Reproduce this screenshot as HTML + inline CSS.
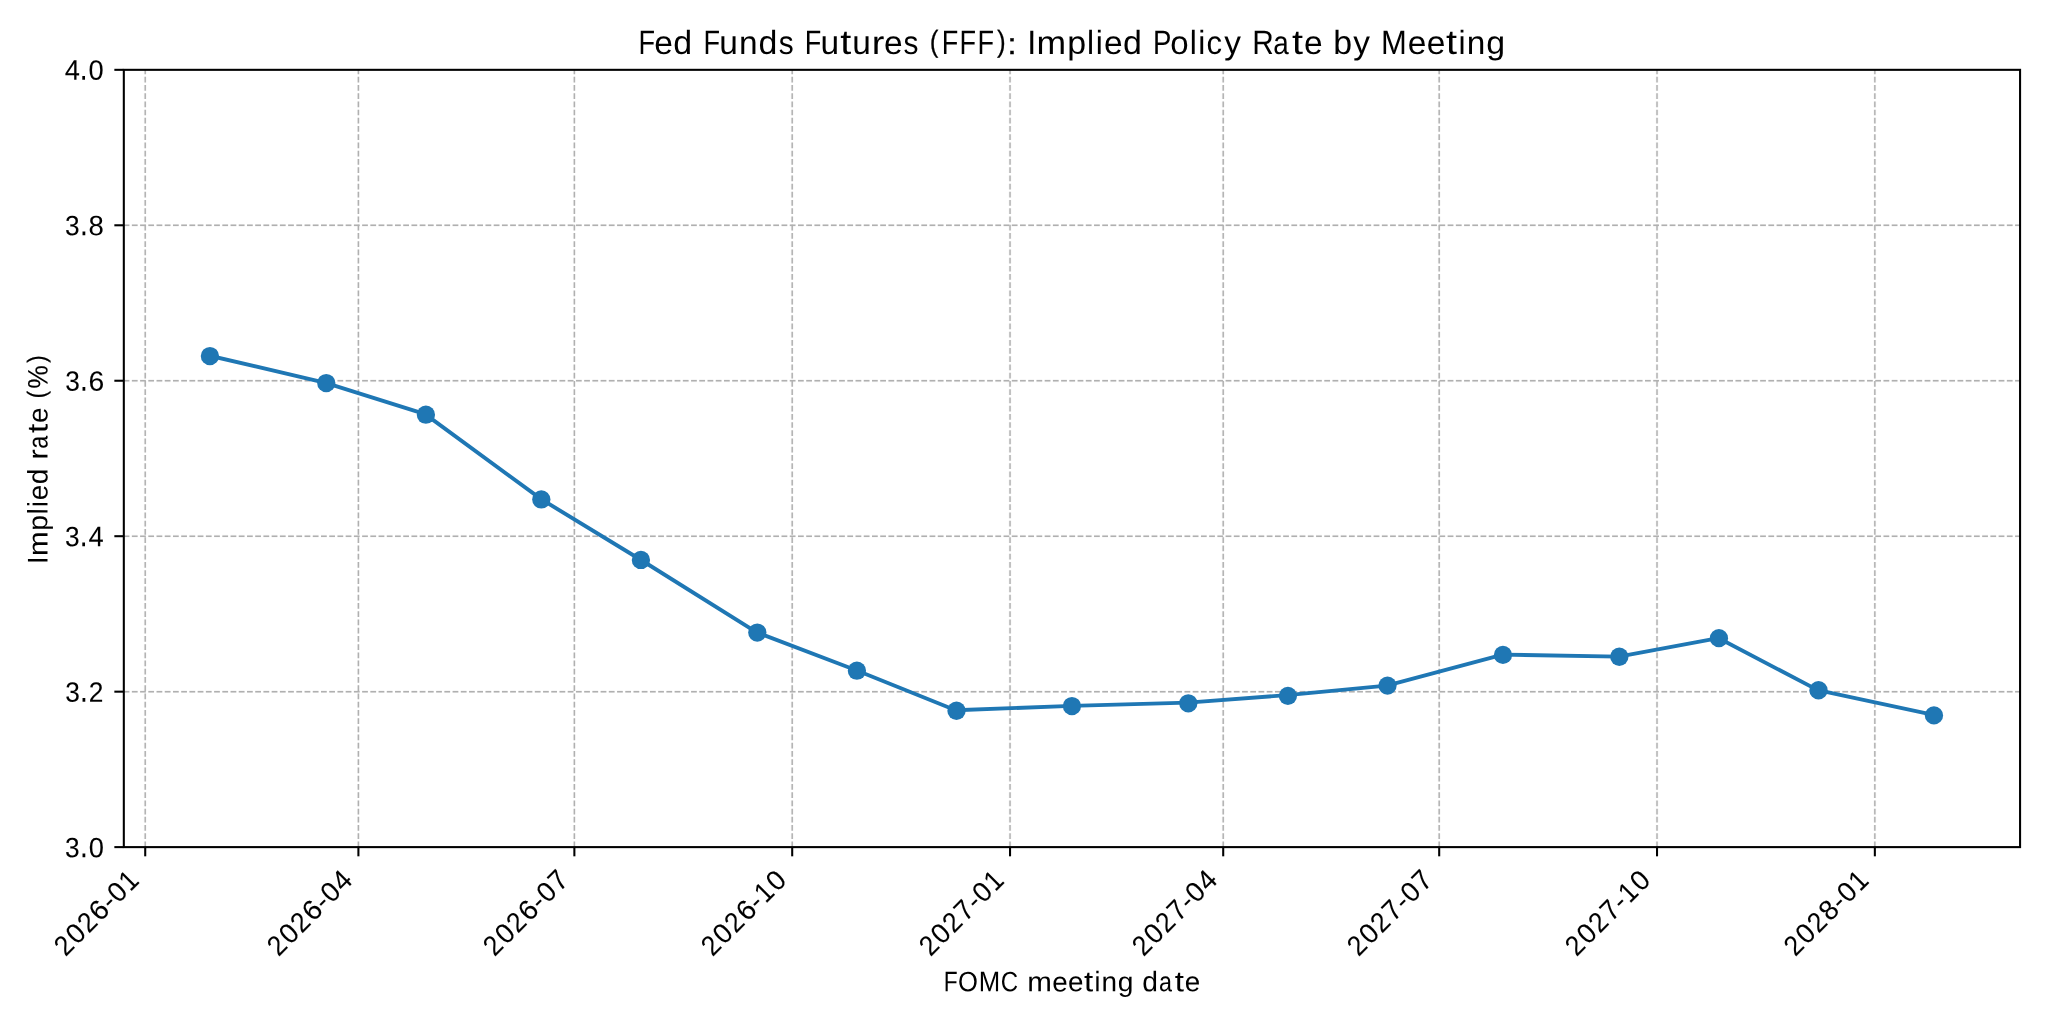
<!DOCTYPE html>
<html lang="en"><head><meta charset="utf-8"><title>Fed Funds Futures (FFF): Implied Policy Rate by Meeting</title>
<style>html,body{margin:0;padding:0;background:#fff}body{width:2048px;height:1024px;overflow:hidden}svg{display:block}text{font-family:"Liberation Sans",sans-serif;fill:#000;white-space:pre}.t{filter:grayscale(1)}</style></head><body>
<svg width="2048" height="1024" viewBox="0 0 2048 1024">
<rect x="0" y="0" width="2048" height="1024" fill="#fff"/>
<g stroke="#b0b0b0" stroke-width="2.8" stroke-opacity="0.12" stroke-dasharray="5.7410 2.4826" fill="none"><path d="M145.22 847.27V69.51"/><path d="M358.4 847.27V69.51"/><path d="M574.37 847.27V69.51"/><path d="M792.2 847.27V69.51"/><path d="M1010.04 847.27V69.51"/><path d="M1223.21 847.27V69.51"/><path d="M1439.19 847.27V69.51"/><path d="M1657.02 847.27V69.51"/><path d="M1874.85 847.27V69.51"/><path d="M123.65 691.67H2020.07"/><path d="M123.65 536.2H2020.07"/><path d="M123.65 380.74H2020.07"/><path d="M123.65 225.28H2020.07"/></g>
<g stroke="#b0b0b0" stroke-width="1.45" stroke-dasharray="5.7410 2.4826" fill="none">
<path d="M145.22 847.27V69.51"/>
<path d="M358.4 847.27V69.51"/>
<path d="M574.37 847.27V69.51"/>
<path d="M792.2 847.27V69.51"/>
<path d="M1010.04 847.27V69.51"/>
<path d="M1223.21 847.27V69.51"/>
<path d="M1439.19 847.27V69.51"/>
<path d="M1657.02 847.27V69.51"/>
<path d="M1874.85 847.27V69.51"/>
<path d="M123.65 691.67H2020.07"/>
<path d="M123.65 536.2H2020.07"/>
<path d="M123.65 380.74H2020.07"/>
<path d="M123.65 225.28H2020.07"/>
</g>
<polyline fill="none" stroke="#1f77b4" stroke-width="3.88" stroke-linejoin="round" stroke-linecap="square" points="209.61,355.74 325.67,382.81 425.14,414.1 541.2,499.18 640.67,559.74 756.73,632.31 856.2,670.23 955.68,710.28 1071.73,705.88 1187.79,702.63 1287.27,695.12 1386.74,685.61 1502.8,654.68 1618.85,656.58 1718.33,638.06 1817.8,690.11 1933.86,714.89"/>
<g fill="#1f77b4"><circle cx="209.92" cy="356.07" r="9.15"/><circle cx="326.28" cy="383.07" r="9.15"/><circle cx="425.89" cy="414.72" r="9.15"/><circle cx="541.32" cy="499.43" r="9.15"/><circle cx="640.93" cy="559.94" r="9.15"/><circle cx="757.29" cy="632.55" r="9.15"/><circle cx="856.9" cy="670.72" r="9.15"/><circle cx="956.51" cy="710.75" r="9.15"/><circle cx="1071.94" cy="706.09" r="9.15"/><circle cx="1188.31" cy="703.3" r="9.15"/><circle cx="1287.91" cy="695.85" r="9.15"/><circle cx="1387.52" cy="685.61" r="9.15"/><circle cx="1502.95" cy="654.89" r="9.15"/><circle cx="1619.32" cy="656.76" r="9.15"/><circle cx="1718.92" cy="638.14" r="9.15"/><circle cx="1818.53" cy="690.27" r="9.15"/><circle cx="1933.96" cy="715.4" r="9.15"/></g>
<g stroke="#000" stroke-width="2.07" fill="none">
<path d="M145.22 847.27V856.32"/>
<path d="M358.4 847.27V856.32"/>
<path d="M574.37 847.27V856.32"/>
<path d="M792.2 847.27V856.32"/>
<path d="M1010.04 847.27V856.32"/>
<path d="M1223.21 847.27V856.32"/>
<path d="M1439.19 847.27V856.32"/>
<path d="M1657.02 847.27V856.32"/>
<path d="M1874.85 847.27V856.32"/>
<path d="M123.4 847.11H114.35"/>
<path d="M123.4 691.67H114.35"/>
<path d="M123.4 536.2H114.35"/>
<path d="M123.4 380.74H114.35"/>
<path d="M123.4 225.28H114.35"/>
<path d="M123.4 69.83H114.35"/>
<rect x="123.82" y="69.83" width="1896.25" height="777.28"/>
</g>
<g>
<text class="t" transform="translate(637.7 53.99) rotate(0.06)" font-size="32.6"><tspan lengthAdjust="spacingAndGlyphs" font-size="33.83" x="0.76" y="0.03" textLength="16.53">F</tspan><tspan lengthAdjust="spacingAndGlyphs" font-size="32.87" x="16.45" y="0.01" textLength="18.62">e</tspan><tspan lengthAdjust="spacingAndGlyphs" font-size="33.4" x="35.53" y="-0.01" textLength="18.85">d</tspan> <tspan lengthAdjust="spacingAndGlyphs" font-size="33.83" x="65.69" y="-0.04" textLength="16.53">F</tspan><tspan lengthAdjust="spacingAndGlyphs" font-size="33.48" x="81.56" y="-0.06" textLength="18.59">u</tspan><tspan lengthAdjust="spacingAndGlyphs" font-size="32.87" x="101.29" y="-0.08" textLength="18.59">n</tspan><tspan lengthAdjust="spacingAndGlyphs" font-size="33.4" x="120.71" y="-0.1" textLength="18.85">d</tspan><tspan lengthAdjust="spacingAndGlyphs" font-size="32.96" x="140.97" y="-0.12" textLength="14.94">s</tspan> <tspan lengthAdjust="spacingAndGlyphs" font-size="33.83" x="167.04" y="-0.14" textLength="16.53">F</tspan><tspan lengthAdjust="spacingAndGlyphs" font-size="33.48" x="182.91" y="-0.16" textLength="18.59">u</tspan><tspan lengthAdjust="spacingAndGlyphs" font-size="34.56" x="202.51" y="-0.18" textLength="11.04">t</tspan><tspan lengthAdjust="spacingAndGlyphs" font-size="33.48" x="214.68" y="-0.19" textLength="18.59">u</tspan><tspan lengthAdjust="spacingAndGlyphs" font-size="32.87" x="234.12" y="-0.22" textLength="12.59">r</tspan><tspan lengthAdjust="spacingAndGlyphs" font-size="32.87" x="246.27" y="-0.23" textLength="18.62">e</tspan><tspan lengthAdjust="spacingAndGlyphs" font-size="32.96" x="265.82" y="-0.25" textLength="14.94">s</tspan> <tspan lengthAdjust="spacingAndGlyphs" font-size="29.98" x="292.14" y="-2.76" textLength="8.73" stroke="#000" stroke-width="0.25">(</tspan><tspan lengthAdjust="spacingAndGlyphs" font-size="33.83" x="304" y="-0.29" textLength="16.53">F</tspan><tspan lengthAdjust="spacingAndGlyphs" font-size="33.83" x="321.92" y="-0.31" textLength="16.53">F</tspan><tspan lengthAdjust="spacingAndGlyphs" font-size="33.83" x="339.84" y="-0.33" textLength="16.53">F</tspan><tspan lengthAdjust="spacingAndGlyphs" font-size="29.98" x="359.31" y="-2.83" textLength="8.71" stroke="#000" stroke-width="0.25">)</tspan><tspan lengthAdjust="spacingAndGlyphs" font-size="29.95" x="369.54" y="-0.36" textLength="9.51" stroke="#000" stroke-width="0.3">:</tspan> <tspan lengthAdjust="spacingAndGlyphs" font-size="33.83" x="389.45" y="-0.38" textLength="9.01">I</tspan><tspan lengthAdjust="spacingAndGlyphs" font-size="32.87" x="398.93" y="-0.39" textLength="29.6">m</tspan><tspan lengthAdjust="spacingAndGlyphs" font-size="32.48" x="429.47" y="-0.64" textLength="18.85">p</tspan><tspan lengthAdjust="spacingAndGlyphs" font-size="33.4" x="449.42" y="-0.44" textLength="7.06">l</tspan><tspan lengthAdjust="spacingAndGlyphs" font-size="33.4" x="458.04" y="-0.45" textLength="7.06">i</tspan><tspan lengthAdjust="spacingAndGlyphs" font-size="32.87" x="466.19" y="-0.46" textLength="18.62">e</tspan><tspan lengthAdjust="spacingAndGlyphs" font-size="33.4" x="485.28" y="-0.48" textLength="18.85">d</tspan> <tspan lengthAdjust="spacingAndGlyphs" font-size="33.83" x="515.39" y="-0.51" textLength="18.37">P</tspan><tspan lengthAdjust="spacingAndGlyphs" font-size="32.87" x="532.56" y="-0.53" textLength="18.37">o</tspan><tspan lengthAdjust="spacingAndGlyphs" font-size="33.4" x="552.05" y="-0.55" textLength="7.06">l</tspan><tspan lengthAdjust="spacingAndGlyphs" font-size="33.4" x="560.68" y="-0.56" textLength="7.06">i</tspan><tspan lengthAdjust="spacingAndGlyphs" font-size="32.87" x="568.92" y="-0.57" textLength="15.59">c</tspan><tspan lengthAdjust="spacingAndGlyphs" font-size="32.89" x="586.44" y="-0.89" textLength="16.68">y</tspan> <tspan lengthAdjust="spacingAndGlyphs" font-size="33.83" x="614.47" y="-0.61" textLength="21.51">R</tspan><tspan lengthAdjust="spacingAndGlyphs" font-size="32.87" x="635.51" y="-0.64" textLength="15.5">a</tspan><tspan lengthAdjust="spacingAndGlyphs" font-size="34.56" x="654.23" y="-0.66" textLength="11.04">t</tspan><tspan lengthAdjust="spacingAndGlyphs" font-size="32.87" x="666.22" y="-0.67" textLength="18.62">e</tspan> <tspan lengthAdjust="spacingAndGlyphs" font-size="33.4" x="695.48" y="-0.7" textLength="18.85">b</tspan><tspan lengthAdjust="spacingAndGlyphs" font-size="32.89" x="715.49" y="-1.03" textLength="16.68">y</tspan> <tspan lengthAdjust="spacingAndGlyphs" font-size="33.83" x="743.42" y="-0.75" textLength="25.79">M</tspan><tspan lengthAdjust="spacingAndGlyphs" font-size="32.87" x="770.02" y="-0.78" textLength="18.62">e</tspan><tspan lengthAdjust="spacingAndGlyphs" font-size="32.87" x="789.1" y="-0.8" textLength="18.62">e</tspan><tspan lengthAdjust="spacingAndGlyphs" font-size="34.56" x="808.3" y="-0.82" textLength="11.04">t</tspan><tspan lengthAdjust="spacingAndGlyphs" font-size="33.4" x="820.75" y="-0.83" textLength="7.06">i</tspan><tspan lengthAdjust="spacingAndGlyphs" font-size="32.87" x="829.15" y="-0.84" textLength="18.59">n</tspan><tspan lengthAdjust="spacingAndGlyphs" font-size="32.53" x="848.56" y="-1.09" textLength="18.85">g</tspan></text>
<text class="t" transform="translate(943.09 990.98) rotate(0.06)" font-size="27.2"><tspan lengthAdjust="spacingAndGlyphs" font-size="28.41" x="0.66" y="0.38" textLength="13.89">F</tspan><tspan lengthAdjust="spacingAndGlyphs" font-size="28" x="15.04" y="0.36" textLength="19.89">O</tspan><tspan lengthAdjust="spacingAndGlyphs" font-size="28.41" x="35.55" y="0.34" textLength="21.45">M</tspan><tspan lengthAdjust="spacingAndGlyphs" font-size="28" x="57.62" y="0.32" textLength="17.32">C</tspan> <tspan lengthAdjust="spacingAndGlyphs" font-size="27.68" x="84.11" y="0.29" textLength="24.62">m</tspan><tspan lengthAdjust="spacingAndGlyphs" font-size="27.68" x="109.21" y="0.27" textLength="15.45">e</tspan><tspan lengthAdjust="spacingAndGlyphs" font-size="27.68" x="125.04" y="0.25" textLength="15.45">e</tspan><tspan lengthAdjust="spacingAndGlyphs" font-size="28.8" x="141.03" y="0.23" textLength="9.2">t</tspan><tspan lengthAdjust="spacingAndGlyphs" font-size="28.26" x="151.44" y="0.22" textLength="5.88">i</tspan><tspan lengthAdjust="spacingAndGlyphs" font-size="27.68" x="158.45" y="0.21" textLength="15.54">n</tspan><tspan lengthAdjust="spacingAndGlyphs" font-size="27.52" x="174.6" y="0.07" textLength="15.69">g</tspan> <tspan lengthAdjust="spacingAndGlyphs" font-size="28.26" x="199.27" y="0.17" textLength="15.69">d</tspan><tspan lengthAdjust="spacingAndGlyphs" font-size="27.68" x="215.99" y="0.15" textLength="12.98">a</tspan><tspan lengthAdjust="spacingAndGlyphs" font-size="28.8" x="231.68" y="0.14" textLength="9.2">t</tspan><tspan lengthAdjust="spacingAndGlyphs" font-size="27.68" x="241.63" y="0.13" textLength="15.45">e</tspan></text>
<text class="t" transform="translate(48.06 563.12) rotate(-89.94)" font-size="27.2"><tspan lengthAdjust="spacingAndGlyphs" font-size="28.41" x="-0.99" y="-0.68" textLength="7.63">I</tspan><tspan lengthAdjust="spacingAndGlyphs" font-size="27.68" x="7.02" y="-0.69" textLength="24.62">m</tspan><tspan lengthAdjust="spacingAndGlyphs" font-size="27.49" x="32.42" y="-0.83" textLength="15.69">p</tspan><tspan lengthAdjust="spacingAndGlyphs" font-size="28.26" x="48.98" y="-0.73" textLength="5.88">l</tspan><tspan lengthAdjust="spacingAndGlyphs" font-size="28.26" x="56.2" y="-0.74" textLength="5.88">i</tspan><tspan lengthAdjust="spacingAndGlyphs" font-size="27.68" x="62.96" y="-0.75" textLength="15.45">e</tspan><tspan lengthAdjust="spacingAndGlyphs" font-size="28.26" x="78.78" y="-0.76" textLength="15.69">d</tspan> <tspan lengthAdjust="spacingAndGlyphs" font-size="27.68" x="103.45" y="-0.79" textLength="10.6">r</tspan><tspan lengthAdjust="spacingAndGlyphs" font-size="27.68" x="114.47" y="-0.8" textLength="12.98">a</tspan><tspan lengthAdjust="spacingAndGlyphs" font-size="28.8" x="130.16" y="-0.82" textLength="9.2">t</tspan><tspan lengthAdjust="spacingAndGlyphs" font-size="27.68" x="140.11" y="-0.83" textLength="15.45">e</tspan> <tspan lengthAdjust="spacingAndGlyphs" font-size="25.48" x="164.84" y="-2.87" textLength="7.25" stroke="#000" stroke-width="0.25">(</tspan><tspan lengthAdjust="spacingAndGlyphs" font-size="28.17" x="174.44" y="-0.86" textLength="23.53" stroke="#000" stroke-width="0.1">%</tspan><tspan lengthAdjust="spacingAndGlyphs" font-size="25.48" x="200.32" y="-2.91" textLength="7.25" stroke="#000" stroke-width="0.25">)</tspan></text>
<text class="t" transform="translate(63.99 857.51) rotate(0.06)" font-size="27.4" stroke="#000" stroke-width="0.07"><tspan lengthAdjust="spacingAndGlyphs" font-size="28" x="1.14" y="-0.18" textLength="14.61">3</tspan><tspan lengthAdjust="spacingAndGlyphs" font-size="34.82" x="15.99" y="-0.2" textLength="7.81">.</tspan><tspan lengthAdjust="spacingAndGlyphs" font-size="28" x="24.7" y="-0.21" textLength="15.16">0</tspan></text>
<text class="t" transform="translate(64.1 701.96) rotate(0.06)" font-size="27.4" stroke="#000" stroke-width="0.07"><tspan lengthAdjust="spacingAndGlyphs" font-size="28" x="1.16" y="-0.11" textLength="14.61">3</tspan><tspan lengthAdjust="spacingAndGlyphs" font-size="34.82" x="16.01" y="-0.13" textLength="7.81">.</tspan><tspan lengthAdjust="spacingAndGlyphs" font-size="28" x="24.58" y="-0.14" textLength="14.63">2</tspan></text>
<text class="t" transform="translate(64.1 546.4) rotate(0.06)" font-size="27.4" stroke="#000" stroke-width="0.07"><tspan lengthAdjust="spacingAndGlyphs" font-size="28" x="0.88" y="-0.11" textLength="14.61">3</tspan><tspan lengthAdjust="spacingAndGlyphs" font-size="34.82" x="15.73" y="-0.13" textLength="7.81">.</tspan><tspan lengthAdjust="spacingAndGlyphs" font-size="28.41" x="24.42" y="-0.14" textLength="15.15">4</tspan></text>
<text class="t" transform="translate(64.1 390.85) rotate(0.06)" font-size="27.4" stroke="#000" stroke-width="0.07"><tspan lengthAdjust="spacingAndGlyphs" font-size="28" x="1.13" y="-0.02" textLength="14.61">3</tspan><tspan lengthAdjust="spacingAndGlyphs" font-size="34.82" x="15.98" y="-0.04" textLength="7.81">.</tspan><tspan lengthAdjust="spacingAndGlyphs" font-size="28" x="24.32" y="-0.05" textLength="15.71">6</tspan></text>
<text class="t" transform="translate(64.1 235.3) rotate(0.06)" font-size="27.4" stroke="#000" stroke-width="0.07"><tspan lengthAdjust="spacingAndGlyphs" font-size="28" x="0.97" y="-0.01" textLength="14.61">3</tspan><tspan lengthAdjust="spacingAndGlyphs" font-size="34.82" x="15.82" y="-0.03" textLength="7.81">.</tspan><tspan lengthAdjust="spacingAndGlyphs" font-size="28" x="24.4" y="-0.04" textLength="15.31">8</tspan></text>
<text class="t" transform="translate(64.1 79.75) rotate(0.06)" font-size="27.4" stroke="#000" stroke-width="0.07"><tspan lengthAdjust="spacingAndGlyphs" font-size="28.41" x="0.54" y="0.07" textLength="15.15">4</tspan><tspan lengthAdjust="spacingAndGlyphs" font-size="34.82" x="15.59" y="0.05" textLength="7.81">.</tspan><tspan lengthAdjust="spacingAndGlyphs" font-size="28" x="24.31" y="0.04" textLength="15.16">0</tspan></text>
<text class="t" transform="translate(65.35 956.21) rotate(-44.94)" font-size="27.4" stroke="#000" stroke-width="0.09"><tspan lengthAdjust="spacingAndGlyphs" font-size="28" x="-0.65" y="0.72" textLength="14.63">2</tspan><tspan lengthAdjust="spacingAndGlyphs" font-size="28" x="15.9" y="0.7" textLength="15.16">0</tspan><tspan lengthAdjust="spacingAndGlyphs" font-size="28" x="32.28" y="0.69" textLength="14.63">2</tspan><tspan lengthAdjust="spacingAndGlyphs" font-size="28" x="48.46" y="0.67" textLength="15.71">6</tspan><tspan lengthAdjust="spacingAndGlyphs" font-size="25.88" x="64.61" y="-0" textLength="9.21">-</tspan><tspan lengthAdjust="spacingAndGlyphs" font-size="28" x="74.55" y="0.64" textLength="15.16">0</tspan><tspan lengthAdjust="spacingAndGlyphs" font-size="28.41" x="91.21" y="0.62" textLength="14.41">1</tspan></text>
<text class="t" transform="translate(278.52 956.21) rotate(-44.94)" font-size="27.4" stroke="#000" stroke-width="0.09"><tspan lengthAdjust="spacingAndGlyphs" font-size="28" x="-0.74" y="0.71" textLength="14.63">2</tspan><tspan lengthAdjust="spacingAndGlyphs" font-size="28" x="15.81" y="0.69" textLength="15.16">0</tspan><tspan lengthAdjust="spacingAndGlyphs" font-size="28" x="32.19" y="0.68" textLength="14.63">2</tspan><tspan lengthAdjust="spacingAndGlyphs" font-size="28" x="48.37" y="0.66" textLength="15.71">6</tspan><tspan lengthAdjust="spacingAndGlyphs" font-size="25.88" x="64.52" y="-0.01" textLength="9.21">-</tspan><tspan lengthAdjust="spacingAndGlyphs" font-size="28" x="74.46" y="0.63" textLength="15.16">0</tspan><tspan lengthAdjust="spacingAndGlyphs" font-size="28.41" x="90.95" y="0.61" textLength="15.15">4</tspan></text>
<text class="t" transform="translate(494.05 956.21) rotate(-44.94)" font-size="27.4" stroke="#000" stroke-width="0.09"><tspan lengthAdjust="spacingAndGlyphs" font-size="28" x="-0.42" y="1.06" textLength="14.63">2</tspan><tspan lengthAdjust="spacingAndGlyphs" font-size="28" x="16.13" y="1.04" textLength="15.16">0</tspan><tspan lengthAdjust="spacingAndGlyphs" font-size="28" x="32.51" y="1.03" textLength="14.63">2</tspan><tspan lengthAdjust="spacingAndGlyphs" font-size="28" x="48.69" y="1.01" textLength="15.71">6</tspan><tspan lengthAdjust="spacingAndGlyphs" font-size="25.88" x="64.84" y="0.34" textLength="9.21">-</tspan><tspan lengthAdjust="spacingAndGlyphs" font-size="28" x="74.78" y="0.98" textLength="15.16">0</tspan><tspan lengthAdjust="spacingAndGlyphs" font-size="28.41" x="91.35" y="0.96" textLength="14.81">7</tspan></text>
<text class="t" transform="translate(711.95 956.21) rotate(-44.94)" font-size="27.4" stroke="#000" stroke-width="0.09"><tspan lengthAdjust="spacingAndGlyphs" font-size="28" x="-0.42" y="1.06" textLength="14.63">2</tspan><tspan lengthAdjust="spacingAndGlyphs" font-size="28" x="16.13" y="1.04" textLength="15.16">0</tspan><tspan lengthAdjust="spacingAndGlyphs" font-size="28" x="32.51" y="1.03" textLength="14.63">2</tspan><tspan lengthAdjust="spacingAndGlyphs" font-size="28" x="48.69" y="1.01" textLength="15.71">6</tspan><tspan lengthAdjust="spacingAndGlyphs" font-size="25.88" x="64.84" y="0.34" textLength="9.21">-</tspan><tspan lengthAdjust="spacingAndGlyphs" font-size="28.41" x="74.91" y="0.98" textLength="14.41">1</tspan><tspan lengthAdjust="spacingAndGlyphs" font-size="28" x="91.18" y="0.96" textLength="15.16">0</tspan></text>
<text class="t" transform="translate(929.85 956.21) rotate(-44.94)" font-size="27.4" stroke="#000" stroke-width="0.09"><tspan lengthAdjust="spacingAndGlyphs" font-size="28" x="-0.29" y="1.08" textLength="14.63">2</tspan><tspan lengthAdjust="spacingAndGlyphs" font-size="28" x="16.26" y="1.06" textLength="15.16">0</tspan><tspan lengthAdjust="spacingAndGlyphs" font-size="28" x="32.64" y="1.05" textLength="14.63">2</tspan><tspan lengthAdjust="spacingAndGlyphs" font-size="28.41" x="49.24" y="1.03" textLength="14.81">7</tspan><tspan lengthAdjust="spacingAndGlyphs" font-size="25.88" x="64.97" y="0.36" textLength="9.21">-</tspan><tspan lengthAdjust="spacingAndGlyphs" font-size="28" x="74.91" y="1" textLength="15.16">0</tspan><tspan lengthAdjust="spacingAndGlyphs" font-size="28.41" x="91.57" y="0.98" textLength="14.41">1</tspan></text>
<text class="t" transform="translate(1143.01 956.21) rotate(-44.94)" font-size="27.4" stroke="#000" stroke-width="0.09"><tspan lengthAdjust="spacingAndGlyphs" font-size="28" x="-0.42" y="0.96" textLength="14.63">2</tspan><tspan lengthAdjust="spacingAndGlyphs" font-size="28" x="16.13" y="0.94" textLength="15.16">0</tspan><tspan lengthAdjust="spacingAndGlyphs" font-size="28" x="32.51" y="0.93" textLength="14.63">2</tspan><tspan lengthAdjust="spacingAndGlyphs" font-size="28.41" x="49.11" y="0.91" textLength="14.81">7</tspan><tspan lengthAdjust="spacingAndGlyphs" font-size="25.88" x="64.84" y="0.24" textLength="9.21">-</tspan><tspan lengthAdjust="spacingAndGlyphs" font-size="28" x="74.78" y="0.88" textLength="15.16">0</tspan><tspan lengthAdjust="spacingAndGlyphs" font-size="28.41" x="91.27" y="0.86" textLength="15.15">4</tspan></text>
<text class="t" transform="translate(1358.54 956.21) rotate(-44.94)" font-size="27.4" stroke="#000" stroke-width="0.09"><tspan lengthAdjust="spacingAndGlyphs" font-size="28" x="-0.74" y="0.72" textLength="14.63">2</tspan><tspan lengthAdjust="spacingAndGlyphs" font-size="28" x="15.81" y="0.7" textLength="15.16">0</tspan><tspan lengthAdjust="spacingAndGlyphs" font-size="28" x="32.19" y="0.69" textLength="14.63">2</tspan><tspan lengthAdjust="spacingAndGlyphs" font-size="28.41" x="48.79" y="0.67" textLength="14.81">7</tspan><tspan lengthAdjust="spacingAndGlyphs" font-size="25.88" x="64.52" y="-0" textLength="9.21">-</tspan><tspan lengthAdjust="spacingAndGlyphs" font-size="28" x="74.46" y="0.64" textLength="15.16">0</tspan><tspan lengthAdjust="spacingAndGlyphs" font-size="28.41" x="91.03" y="0.62" textLength="14.81">7</tspan></text>
<text class="t" transform="translate(1576.44 956.21) rotate(-44.94)" font-size="27.4" stroke="#000" stroke-width="0.09"><tspan lengthAdjust="spacingAndGlyphs" font-size="28" x="-0.77" y="0.72" textLength="14.63">2</tspan><tspan lengthAdjust="spacingAndGlyphs" font-size="28" x="15.78" y="0.7" textLength="15.16">0</tspan><tspan lengthAdjust="spacingAndGlyphs" font-size="28" x="32.16" y="0.69" textLength="14.63">2</tspan><tspan lengthAdjust="spacingAndGlyphs" font-size="28.41" x="48.76" y="0.67" textLength="14.81">7</tspan><tspan lengthAdjust="spacingAndGlyphs" font-size="25.88" x="64.49" y="-0" textLength="9.21">-</tspan><tspan lengthAdjust="spacingAndGlyphs" font-size="28.41" x="74.56" y="0.64" textLength="14.41">1</tspan><tspan lengthAdjust="spacingAndGlyphs" font-size="28" x="90.83" y="0.62" textLength="15.16">0</tspan></text>
<text class="t" transform="translate(1794.34 956.21) rotate(-44.94)" font-size="27.4" stroke="#000" stroke-width="0.09"><tspan lengthAdjust="spacingAndGlyphs" font-size="28" x="-0.17" y="1.31" textLength="14.63">2</tspan><tspan lengthAdjust="spacingAndGlyphs" font-size="28" x="16.38" y="1.29" textLength="15.16">0</tspan><tspan lengthAdjust="spacingAndGlyphs" font-size="28" x="32.76" y="1.28" textLength="14.63">2</tspan><tspan lengthAdjust="spacingAndGlyphs" font-size="28" x="49.18" y="1.26" textLength="15.31">8</tspan><tspan lengthAdjust="spacingAndGlyphs" font-size="25.88" x="65.09" y="0.59" textLength="9.21">-</tspan><tspan lengthAdjust="spacingAndGlyphs" font-size="28" x="75.03" y="1.23" textLength="15.16">0</tspan><tspan lengthAdjust="spacingAndGlyphs" font-size="28.41" x="91.69" y="1.21" textLength="14.41">1</tspan></text>
</g>
</svg></body></html>
